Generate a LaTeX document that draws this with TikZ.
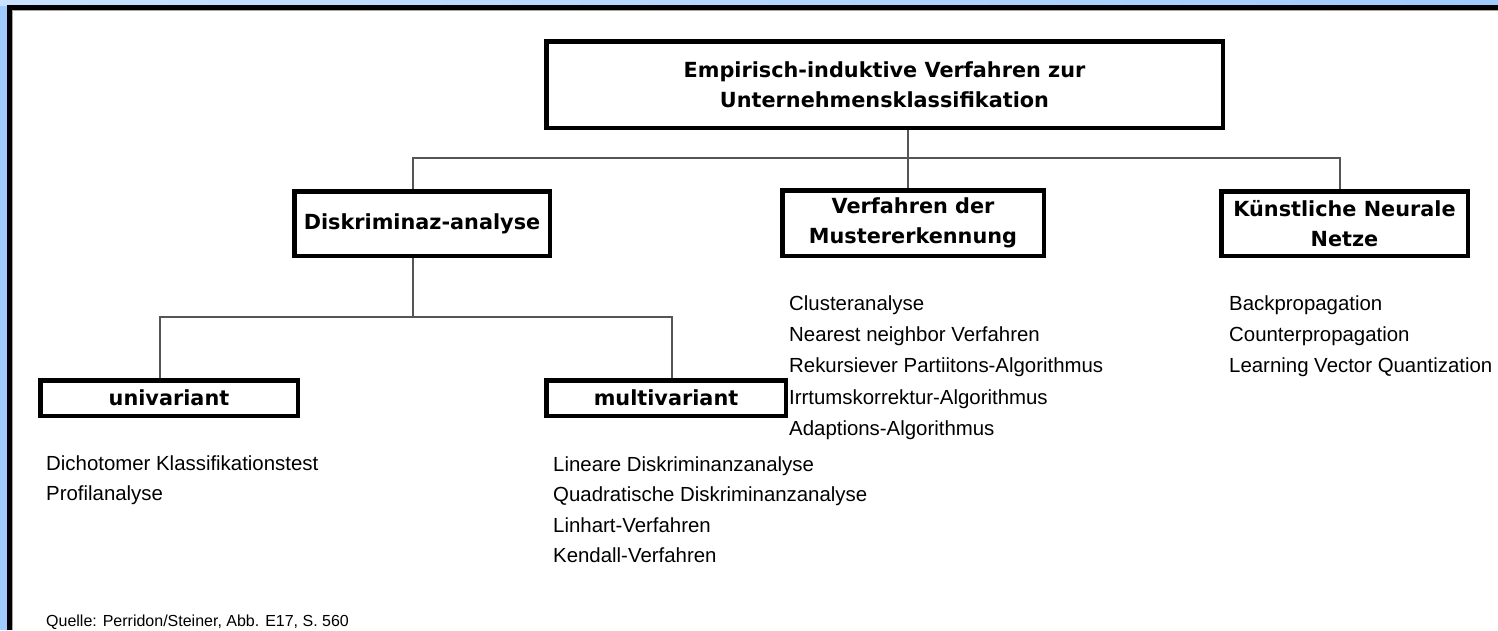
\documentclass[tikz,border=0pt]{standalone}
\usepackage{fontspec}
\setmainfont{Liberation Sans}
\newfontfamily\verd{DejaVu Sans}
\usetikzlibrary{calc}
\definecolor{frameblue}{RGB}{160,203,255}
\definecolor{framelight}{RGB}{200,225,255}
\definecolor{conn}{RGB}{85,85,85}
\tikzset{
  box/.style={draw=black, line width=3pt, fill=white, inner sep=0pt, align=center,
    font=\verd\bfseries\fontsize{20.8}{30}\selectfont},
  conline/.style={draw=conn, line width=1.6pt},
  listitem/.style={anchor=base west, inner sep=0pt, font=\fontsize{20.4}{24}\selectfont},
  srcitem/.style={anchor=base west, inner sep=0pt, font=\fontsize{16}{18}\selectfont}
}
\begin{document}
\begin{tikzpicture}[x=1pt,y=-1pt]
\useasboundingbox (0,0) rectangle (1498,630);
% frame
\fill[frameblue] (0,0) rectangle (1498,630);
\shade[left color=framelight, right color=frameblue] (0,0) rectangle (1498,5);
\fill[white] (7,5) rectangle (1498,630);
\draw[black, line width=5pt] (9.5,630) -- (9.5,7.5) -- (1498,7.5);
\draw[gray!70, line width=1pt] (12.5,630) -- (12.5,10.5) -- (1498,10.5);

% boxes
\node[box, minimum width=675pt, minimum height=85pt] (top) at (884.5,84.5)
  {Empirisch-induktive Verfahren zur\\Unternehmensklassifikation};
\node[box, minimum width=254pt, minimum height=63pt] (disk) at (422,223.5) {Diskriminaz-analyse};
\node[box, minimum width=260pt, minimum height=64pt] (mus) at (913,223) {Verfahren der\\Mustererkennung};
\node[box, minimum width=245pt, minimum height=63pt] (kue) at (1344.5,223.5) {Künstliche Neurale\\Netze};
\node[box, minimum width=256pt, minimum height=34pt] (uni) at (169,398) {univariant};
\node[box, minimum width=238pt, minimum height=34pt] (mul) at (666,398) {multivariant};

% connectors
\coordinate (bus1) at (908,158);
\coordinate (bus2) at (413,317);
\coordinate (dtop) at ([xshift=-9pt]disk.north);
\coordinate (dbot) at ([xshift=-9pt]disk.south);
\coordinate (mtop) at ([xshift=-5pt]mus.north);
\coordinate (ktop) at ([xshift=-4.5pt]kue.north);
\coordinate (utop) at ([xshift=-9pt]uni.north);
\coordinate (ltop) at ([xshift=6pt]mul.north);
\draw[conline] (top.south -| mtop) -- (mtop);
\draw[conline] (dtop) |- (bus1) -| (ktop);
\draw[conline] (dbot) -- (bus2);
\draw[conline] (utop) |- (bus2) -| (ltop);
% redraw box borders over line ends
\foreach \n in {top,disk,mus,kue,uni,mul}{\draw[black, line width=3pt] (\n.north west) rectangle (\n.south east);}

% lists
\node[listitem] (m1) at (789,310) {Clusteranalyse};
\node[listitem] (m2) at (789,341) {Nearest neighbor Verfahren};
\node[listitem] (m3) at (789,372) {Rekursiever Partiitons-Algorithmus};
\node[listitem] (m4) at (789,404) {Irrtumskorrektur-Algorithmus};
\node[listitem] (m5) at (789,435) {Adaptions-Algorithmus};

\node[listitem] (k1) at (1229,310) {Backpropagation};
\node[listitem] (k2) at (1229,341) {Counterpropagation};
\node[listitem] (k3) at (1229,372) {Learning Vector Quantization};

\node[listitem] (u1) at (46,470) {Dichotomer Klassifikationstest};
\node[listitem] (u2) at (46,500) {Profilanalyse};

\node[listitem] (l1) at (553,471) {Lineare Diskriminanzanalyse};
\node[listitem] (l2) at (553,501.5) {Quadratische Diskriminanzanalyse};
\node[listitem] (l3) at (553,532) {Linhart-Verfahren};
\node[listitem] (l4) at (553,562.5) {Kendall-Verfahren};

\node[srcitem] (src) at (46,626) {Quelle: Perridon/Steiner, Abb. E17, S. 560};
\end{tikzpicture}
\end{document}
